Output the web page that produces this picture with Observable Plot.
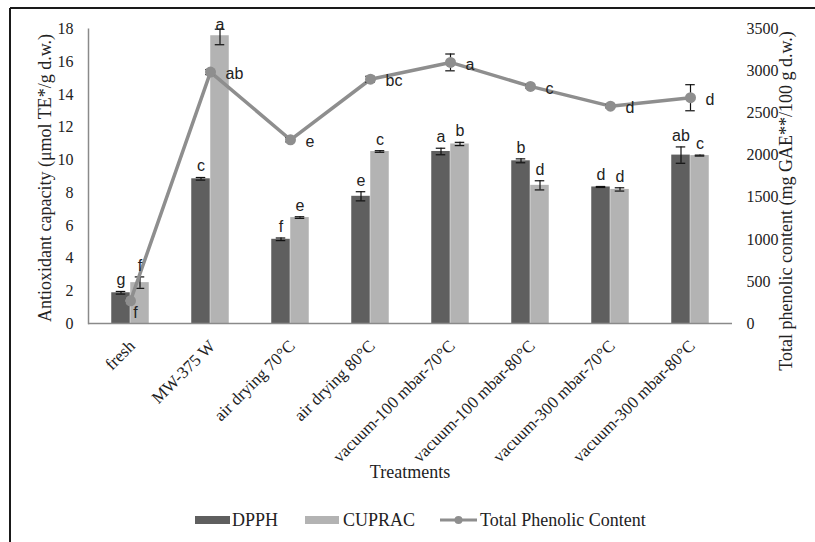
<!DOCTYPE html>
<html>
<head>
<meta charset="utf-8">
<script src="https://cdn.jsdelivr.net/npm/d3@7"></script>
<script src="https://cdn.jsdelivr.net/npm/@observablehq/plot@0.6"></script>
<style>
  html, body { margin: 0; padding: 0; background: #fff; }
  #chart svg { display: block; }
</style>
</head>
<body>
<div id="chart"></div>
<script>
const categories = ["fresh", "MW-375 W", "air drying 70°C", "air drying 80°C",
  "vacuum-100 mbar-70°C", "vacuum-100 mbar-80°C", "vacuum-300 mbar-70°C", "vacuum-300 mbar-80°C"];
const dpph = [1.88, 8.85, 5.15, 7.78, 10.52, 9.95, 8.35, 10.3];
const dpphErr = [0.08, 0.08, 0.08, 0.28, 0.2, 0.12, 0.03, 0.5];
const dpphLetters = ["g", "c", "f", "e", "a", "b", "d", "ab"];
const cuprac = [2.5, 17.6, 6.48, 10.52, 10.98, 8.45, 8.2, 10.27];
const cupracErr = [0.35, 0.55, 0.05, 0.05, 0.1, 0.28, 0.1, 0.03];
const cupracLetters = ["f", "a", "e", "c", "b", "d", "d", "c"];
const tpc = [270, 2990, 2185, 2905, 3105, 2820, 2585, 2685];
const tpcErr = [20, 30, 25, 35, 100, 20, 20, 155];
const tpcLetters = ["f", "ab", "e", "bc", "a", "c", "d", "d"];
const leftTicks = [0, 2, 4, 6, 8, 10, 12, 14, 16, 18];
const rightTicks = [0, 500, 1000, 1500, 2000, 2500, 3000, 3500];
const leftMax = 18, rightMax = 3500;

const W = 815, H = 542;
const mL = 88, mR = 83, mT = 28.7, mB = 219;
const bw = (W - mL - mR) / categories.length;
const barW = 19, capW = 10;
const k = leftMax / rightMax;

const rows = categories.map((c, i) => ({
  c, dpph: dpph[i], dE: dpphErr[i], dL: dpphLetters[i],
  cup: cuprac[i], cE: cupracErr[i], cL: cupracLetters[i],
  tpc: tpc[i] * k, tE: tpcErr[i] * k, tL: tpcLetters[i]
}));

const darkC = "#5f5f5f", lightC = "#b3b3b3", lineC = "#8e8e8e";
const sans = "Liberation Sans, Arial, sans-serif";
const serif = "Liberation Serif, Times New Roman, serif";
const gap = 6;
const errStyle = {stroke: "#111", strokeWidth: 1.2};
const letterStyle = {fontFamily: sans, fontSize: 16, fill: "#222"};

const chart = Plot.plot({
  width: W, height: H,
  marginLeft: mL, marginRight: mR, marginTop: mT, marginBottom: mB,
  style: {fontFamily: serif, fontSize: "16px", color: "#222", background: "#fff"},
  x: {type: "band", domain: categories, padding: 0, axis: null},
  y: {domain: [0, leftMax], axis: null},
  marks: [
    Plot.barY(rows, {x: "c", y: "dpph", fill: darkC, insetLeft: bw / 2 - barW, insetRight: bw / 2}),
    Plot.barY(rows, {x: "c", y: "cup", fill: lightC, insetLeft: bw / 2, insetRight: bw / 2 - barW}),
    Plot.ruleY([0], {stroke: "#8a8a8a", strokeWidth: 1.5}),
    Plot.frame({anchor: "left", stroke: "#8a8a8a", strokeWidth: 1.5}),
    // error bars DPPH
    Plot.ruleX(rows, {x: "c", y1: d => d.dpph - d.dE, y2: d => Math.min(leftMax, d.dpph + d.dE), dx: -barW / 2, ...errStyle}),
    Plot.tickY(rows, {x: "c", y: d => d.dpph - d.dE, ...errStyle, insetLeft: bw / 2 - barW / 2 - capW / 2, insetRight: bw / 2 + barW / 2 - capW / 2}),
    Plot.tickY(rows, {x: "c", y: d => Math.min(leftMax, d.dpph + d.dE), ...errStyle, insetLeft: bw / 2 - barW / 2 - capW / 2, insetRight: bw / 2 + barW / 2 - capW / 2}),
    // error bars CUPRAC
    Plot.ruleX(rows, {x: "c", y1: d => d.cup - d.cE, y2: d => Math.min(leftMax, d.cup + d.cE), dx: barW / 2, ...errStyle}),
    Plot.tickY(rows, {x: "c", y: d => d.cup - d.cE, ...errStyle, insetLeft: bw / 2 + barW / 2 - capW / 2, insetRight: bw / 2 - barW / 2 - capW / 2}),
    Plot.tickY(rows, {x: "c", y: d => Math.min(leftMax, d.cup + d.cE), ...errStyle, insetLeft: bw / 2 + barW / 2 - capW / 2, insetRight: bw / 2 - barW / 2 - capW / 2}),
    // TPC line
    Plot.line(rows, {x: "c", y: "tpc", stroke: lineC, strokeWidth: 3.5}),
    Plot.ruleX(rows, {x: "c", y1: d => d.tpc - d.tE, y2: d => d.tpc + d.tE, ...errStyle}),
    Plot.tickY(rows, {x: "c", y: d => d.tpc - d.tE, ...errStyle, insetLeft: bw / 2 - capW / 2, insetRight: bw / 2 - capW / 2}),
    Plot.tickY(rows, {x: "c", y: d => d.tpc + d.tE, ...errStyle, insetLeft: bw / 2 - capW / 2, insetRight: bw / 2 - capW / 2}),
    Plot.dot(rows, {x: "c", y: "tpc", r: 5.5, fill: lineC, stroke: null}),
    // letters
    Plot.text(rows, {x: "c", y: d => Math.min(leftMax, d.dpph + d.dE), text: "dL", dx: -barW / 2, dy: -gap, lineAnchor: "bottom", ...letterStyle}),
    Plot.text(rows.filter(d => d.cup + d.cE < leftMax), {x: "c", y: d => d.cup + d.cE, text: "cL", dx: barW / 2, dy: -gap, lineAnchor: "bottom", ...letterStyle}),
    Plot.text(rows.filter(d => d.cup + d.cE >= leftMax), {x: "c", y: leftMax, text: "cL", dx: barW / 2, dy: 1, lineAnchor: "bottom", ...letterStyle}),
    Plot.text(rows.slice(1), {x: "c", y: "tpc", text: "tL", dx: 15, dy: 2, textAnchor: "start", lineAnchor: "middle", ...letterStyle}),
    Plot.text(rows.slice(0, 1), {x: "c", y: "tpc", text: "tL", dx: 5, dy: 6, textAnchor: "middle", lineAnchor: "top", ...letterStyle}),
    // axes
    Plot.axisY({ticks: leftTicks, tickSize: 0, tickPadding: 15, label: null, fontSize: 16, fontFamily: serif}),
    Plot.axisY({anchor: "right", ticks: rightTicks.map(v => v * k), tickFormat: d => String(Math.round(d / k)), tickSize: 0, tickPadding: 14, label: null, textAnchor: "start", fontSize: 16, fontFamily: serif}),
    Plot.text(categories, {x: d => d, y: 0, text: d => d, rotate: -45, textAnchor: "end", lineAnchor: "top", dx: -3, dy: 15, fontSize: 17, fontFamily: serif, fill: "#222"})
  ]
});

document.getElementById("chart").appendChild(chart);

const svg = d3.select(chart);
const g = svg.append("g").attr("font-family", serif).attr("fill", "#222").attr("text-anchor", "start");
// outer frame (top and left edges)
g.append("line").attr("x1", 10).attr("x2", W).attr("y1", 8).attr("y2", 8).attr("stroke", "#1a1a1a").attr("stroke-width", 2);
g.append("line").attr("x1", 10).attr("x2", 10).attr("y1", 8).attr("y2", H).attr("stroke", "#1a1a1a").attr("stroke-width", 2);
// axis titles
g.append("text").attr("transform", "translate(51,178) rotate(-90)").attr("text-anchor", "middle").attr("font-size", 18)
  .text("Antioxidant capacity (μmol TE*/g d.w.)");
g.append("text").attr("transform", "translate(792,201) rotate(-90)").attr("text-anchor", "middle").attr("font-size", 18)
  .text("Total phenolic content (mg GAE**/100 g d.w.)");
g.append("text").attr("x", mL + (W - mL - mR) / 2).attr("y", 478).attr("text-anchor", "middle").attr("font-size", 18)
  .text("Treatments");
// legend
const ly = 520;
const lg = g.append("g").attr("font-size", 18).attr("text-anchor", "start");
lg.append("rect").attr("x", 195).attr("y", ly - 4).attr("width", 35).attr("height", 8).attr("fill", darkC);
lg.append("text").attr("x", 232).attr("y", ly + 6).text("DPPH");
lg.append("rect").attr("x", 305).attr("y", ly - 4).attr("width", 34).attr("height", 8).attr("fill", lightC);
lg.append("text").attr("x", 343).attr("y", ly + 6).text("CUPRAC");
lg.append("line").attr("x1", 440).attr("x2", 477).attr("y1", ly).attr("y2", ly).attr("stroke", lineC).attr("stroke-width", 3);
lg.append("circle").attr("cx", 458.5).attr("cy", ly).attr("r", 4).attr("fill", lineC);
lg.append("text").attr("x", 480).attr("y", ly + 6).text("Total Phenolic Content");
</script>
</body>
</html>
